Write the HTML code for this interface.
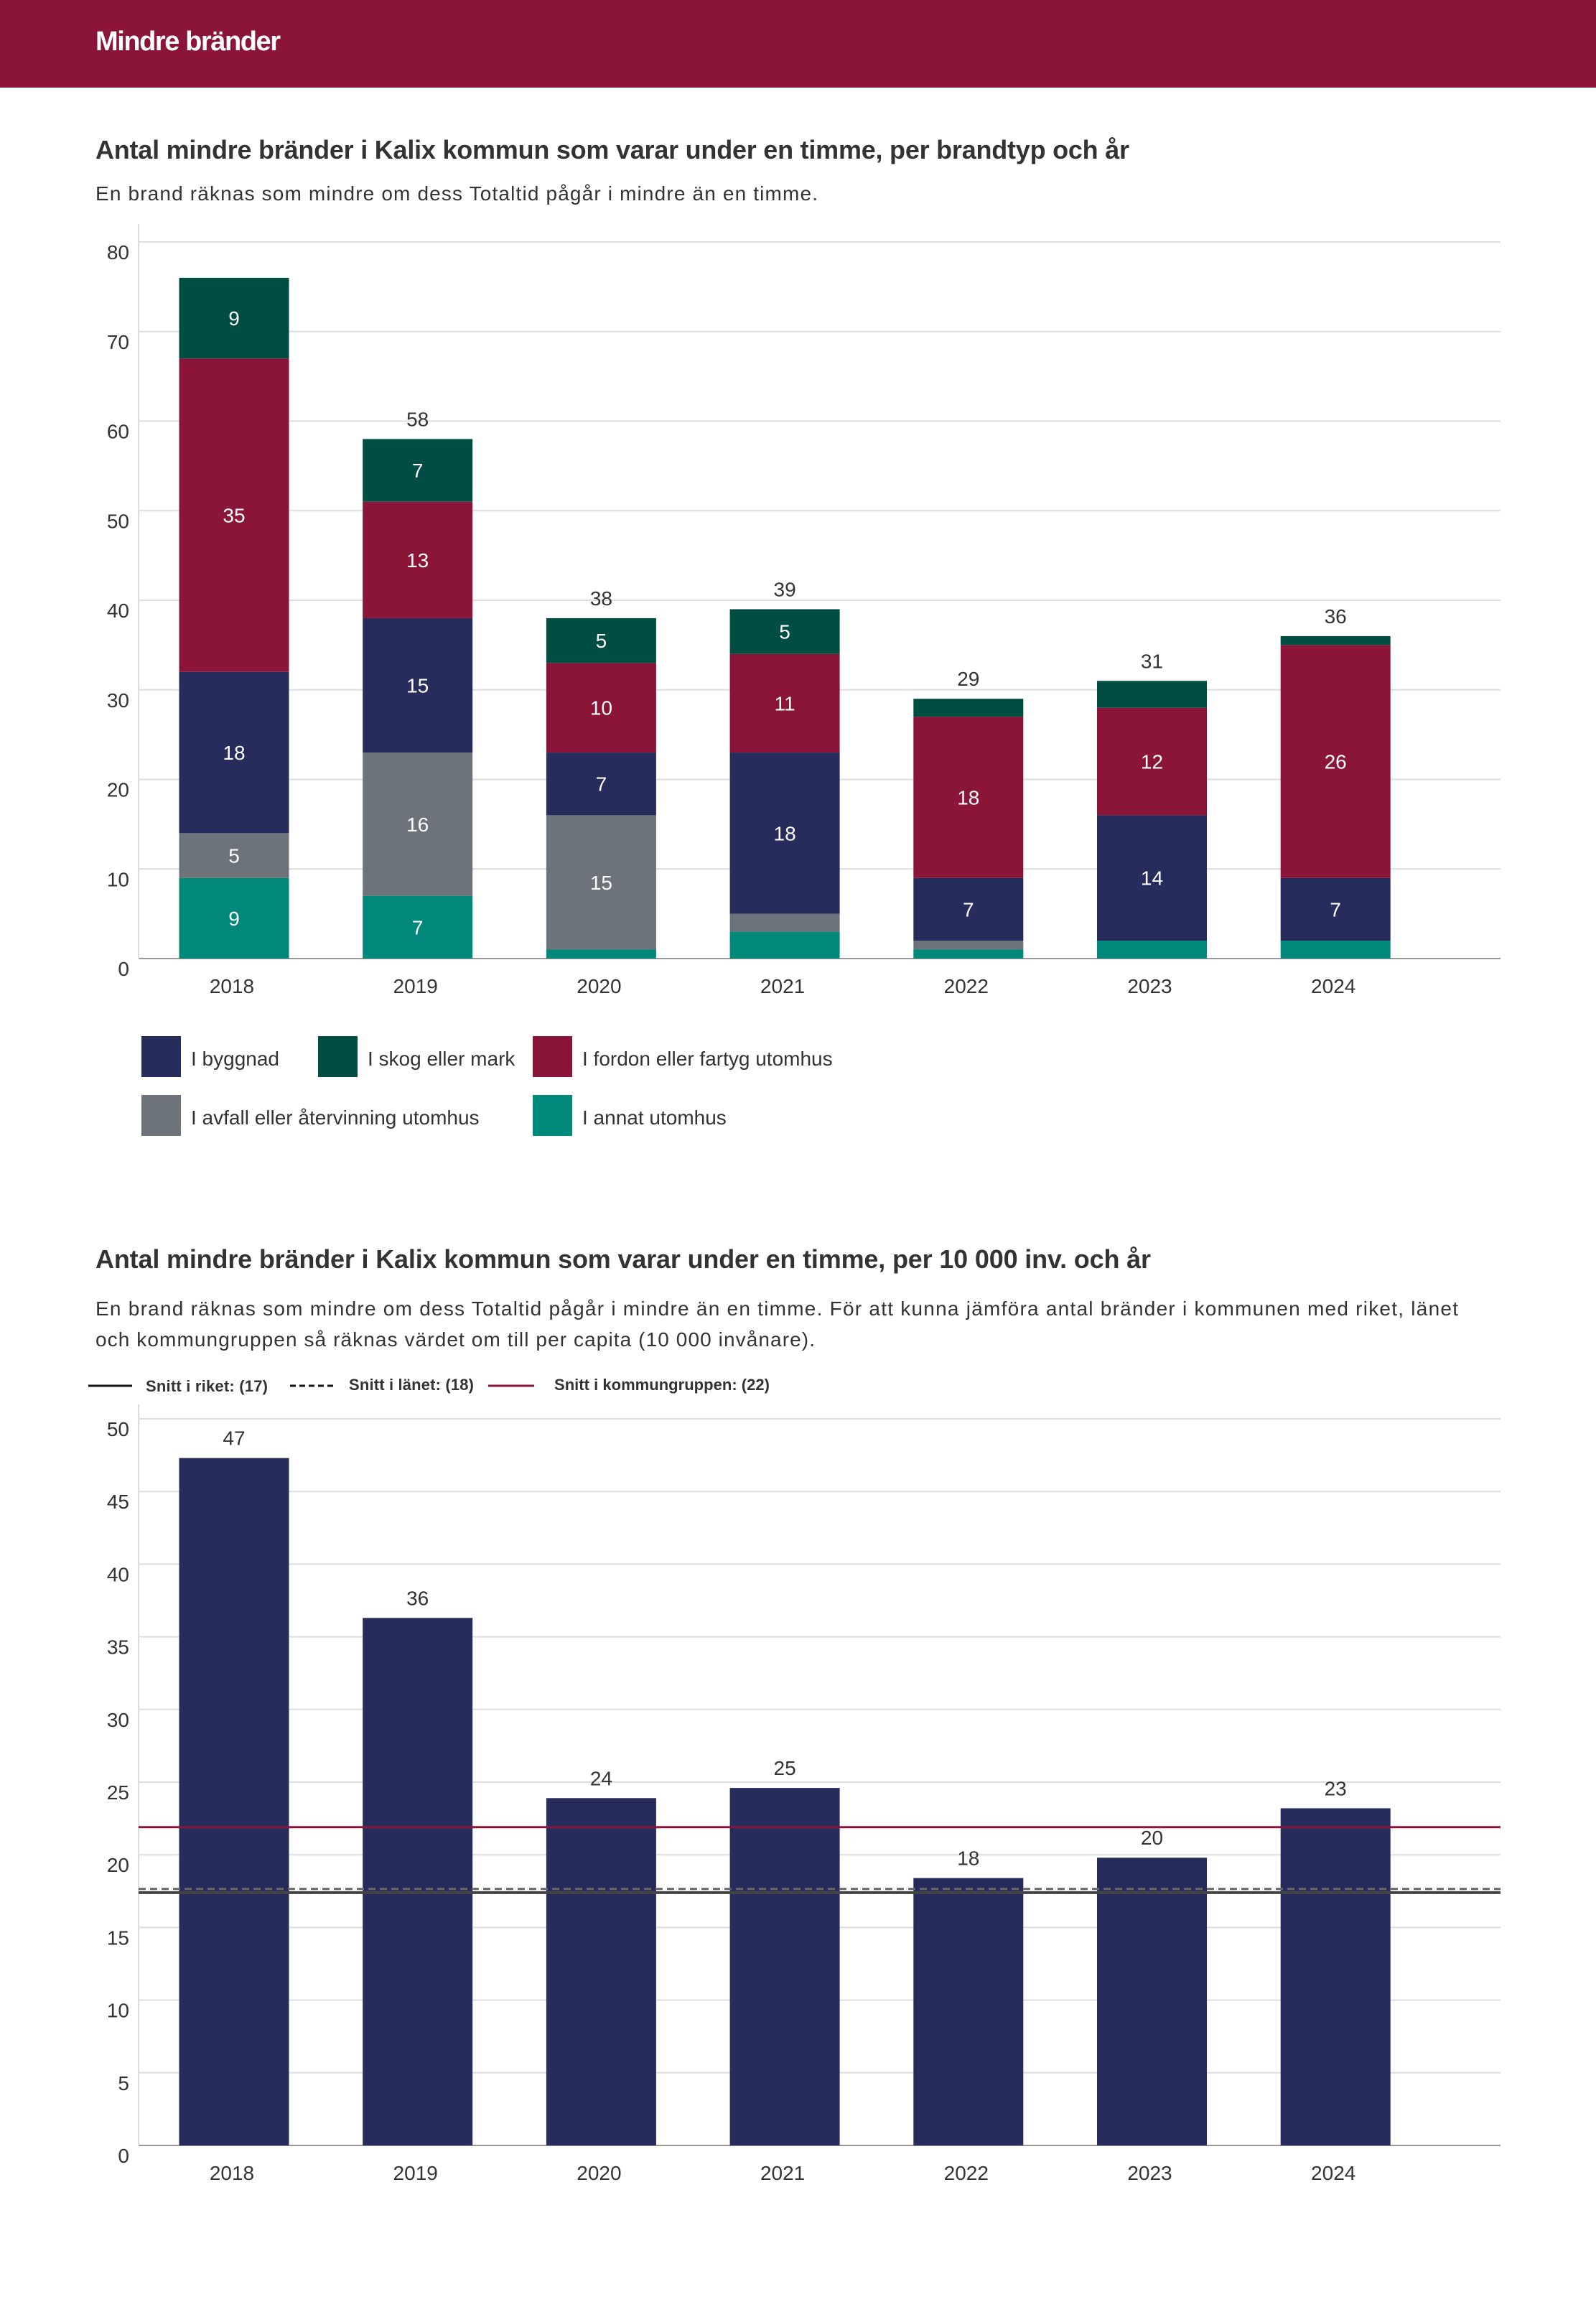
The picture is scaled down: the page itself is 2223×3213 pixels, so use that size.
<!DOCTYPE html>
<html><head><meta charset="utf-8"><style>
html,body{margin:0;padding:0;background:#fff}
svg{display:block}
text{font-family:"Liberation Sans",sans-serif;fill:#333}
</style></head><body>
<svg id="s" width="2223" height="3213" xmlns="http://www.w3.org/2000/svg">
<rect x="0" y="0" width="2223" height="122" fill="#8b1538"/>
<text x="133" y="70" font-size="38" font-weight="bold" style="fill:#fff" textLength="258">Mindre bränder</text>
<text x="133" y="221" font-size="36" font-weight="bold" textLength="1440">Antal mindre bränder i Kalix kommun som varar under en timme, per brandtyp och år</text>
<text x="133" y="279" font-size="28" textLength="1006">En brand räknas som mindre om dess Totaltid pågår i mindre än en timme.</text>
<g id="c1"></g>
<g>
<rect x="197" y="1443" width="55" height="57" fill="#262c5c"/>
<text x="266" y="1484" font-size="28">I byggnad</text>
<rect x="443" y="1443" width="55" height="57" fill="#004d44"/>
<text x="512" y="1484" font-size="28">I skog eller mark</text>
<rect x="742" y="1443" width="55" height="57" fill="#8b1538"/>
<text x="811" y="1484" font-size="28">I fordon eller fartyg utomhus</text>
<rect x="197" y="1525" width="55" height="57" fill="#6d737b"/>
<text x="266" y="1566" font-size="28">I avfall eller återvinning utomhus</text>
<rect x="742" y="1525" width="55" height="57" fill="#00897b"/>
<text x="811" y="1566" font-size="28">I annat utomhus</text>
</g>
<text x="133" y="1766" font-size="36" font-weight="bold" textLength="1470">Antal mindre bränder i Kalix kommun som varar under en timme, per 10 000 inv. och år</text>
<text x="133" y="1832" font-size="28" textLength="1898">En brand räknas som mindre om dess Totaltid pågår i mindre än en timme. För att kunna jämföra antal bränder i kommunen med riket, länet</text>
<text x="133" y="1875" font-size="28" textLength="1002">och kommungruppen så räknas värdet om till per capita (10 000 invånare).</text>
<g>
<line x1="123" y1="1930" x2="184" y2="1930" stroke="#111" stroke-width="3"/>
<text x="203" y="1938" font-size="22" font-weight="bold" textLength="170">Snitt i riket: (17)</text>
<line x1="404" y1="1930" x2="465" y2="1930" stroke="#111" stroke-width="3" stroke-dasharray="8,5"/>
<text x="486" y="1936" font-size="22" font-weight="bold" textLength="174">Snitt i länet: (18)</text>
<line x1="680" y1="1930" x2="744" y2="1930" stroke="#8b1538" stroke-width="3"/>
<text x="772" y="1936" font-size="22" font-weight="bold" textLength="300">Snitt i kommungruppen: (22)</text>
</g>
<g id="c2"></g>
</svg>
<script>
const years = ["2018","2019","2020","2021","2022","2023","2024"];
const annat = [9,7,1,3,1,2,2];
const avfall = [5,16,15,2,1,0,0];
const byggnad = [18,15,7,18,7,14,7];
const fordon = [35,13,10,11,18,12,26];
const skog = [9,7,5,5,2,3,1];
const totals = [null,58,38,39,29,31,36];
const c1Ticks = [0,10,20,30,40,50,60,70,80];
const perCapita = [47.3,36.3,23.9,24.6,18.4,19.8,23.2];
const perCapitaLabels = ["47","36","24","25","18","20","23"];
const c2Ticks = [0,5,10,15,20,25,30,35,40,45,50];
const avgRiket = 17.4;
const avgLanet = 17.65;
const avgGrupp = 21.9;

const NS="http://www.w3.org/2000/svg";
function mk(p,tag,a){const e=document.createElementNS(NS,tag);for(const k in a)e.setAttribute(k,a[k]);p.appendChild(e);return e;}
const xC = i => 323 + i*255.7;
const BW = 153, PL = 193, PR = 2090;

// chart 1
const g1=document.getElementById('c1');
const y1 = v => 1335 - v*(998/80);
c1Ticks.forEach(t=>{
  const l=mk(g1,'line',{x1:PL,x2:PR,y1:y1(t),y2:y1(t),stroke:t===0?'#999':'#ddd','stroke-width':2});
  
  
  const tx=mk(g1,'text',{x:180,y:y1(t)+24,'font-size':28,'text-anchor':'end'});tx.textContent=t;
  
  
});
const ax1=mk(g1,'line',{x1:PL,x2:PL,y1:y1(82),y2:y1(0),stroke:'#ddd','stroke-width':2});


const series=[[annat,'#00897b','annat'],[avfall,'#6d737b','avfall'],[byggnad,'#262c5c','byggnad'],[fordon,'#8b1538','fordon'],[skog,'#004d44','skog']];
years.forEach((yr,i)=>{
  let base=0;
  series.forEach(([arr,col,nm])=>{
    const v=arr[i]; if(!v) return;
    const r=mk(g1,'rect',{x:xC(i)-BW/2+3,y:y1(base+v),width:BW,height:y1(base)-y1(base+v),fill:col});
    
    
    if(v>=5){const t=mk(g1,'text',{x:xC(i)+3,y:(y1(base)+y1(base+v))/2+10,'font-size':28,'text-anchor':'middle',style:'fill:#fff'});t.textContent=v;
      
      }
    base+=v;
  });
  if(totals[i]!==null){const t=mk(g1,'text',{x:xC(i)+3,y:y1(base)-18,'font-size':28,'text-anchor':'middle'});t.textContent=totals[i];
    
    }
  const xl=mk(g1,'text',{x:xC(i),y:1383,'font-size':28,'text-anchor':'middle'});xl.textContent=yr;
  
  
});

// chart 2
const g2=document.getElementById('c2');
const y2 = v => 2988 - v*(1012/50);
c2Ticks.forEach(t=>{
  const l=mk(g2,'line',{x1:PL,x2:PR,y1:y2(t),y2:y2(t),stroke:t===0?'#999':'#ddd','stroke-width':2});
  
  
  const tx=mk(g2,'text',{x:180,y:y2(t)+24,'font-size':28,'text-anchor':'end'});tx.textContent=t;
  
  
});
const ax2=mk(g2,'line',{x1:PL,x2:PL,y1:y2(51),y2:y2(0),stroke:'#ddd','stroke-width':2});


years.forEach((yr,i)=>{
  const r=mk(g2,'rect',{x:xC(i)-BW/2+3,y:y2(perCapita[i]),width:BW,height:y2(0)-y2(perCapita[i]),fill:'#262c5c'});
  
  
  const t=mk(g2,'text',{x:xC(i)+3,y:y2(perCapita[i])-18,'font-size':28,'text-anchor':'middle'});t.textContent=perCapitaLabels[i];
  
  
  const xl=mk(g2,'text',{x:xC(i),y:3036,'font-size':28,'text-anchor':'middle'});xl.textContent=yr;
  
  
});
const lg=mk(g2,'line',{x1:PL,x2:PR,y1:y2(avgGrupp),y2:y2(avgGrupp),stroke:'#8b1538','stroke-width':3});


const lr=mk(g2,'line',{x1:PL,x2:PR,y1:y2(avgRiket),y2:y2(avgRiket),stroke:'#444','stroke-width':4});


const ll=mk(g2,'line',{x1:PL,x2:PR,y1:y2(avgLanet),y2:y2(avgLanet),stroke:'#666','stroke-width':3,'stroke-dasharray':'10,6'});


</script>
</body></html>
